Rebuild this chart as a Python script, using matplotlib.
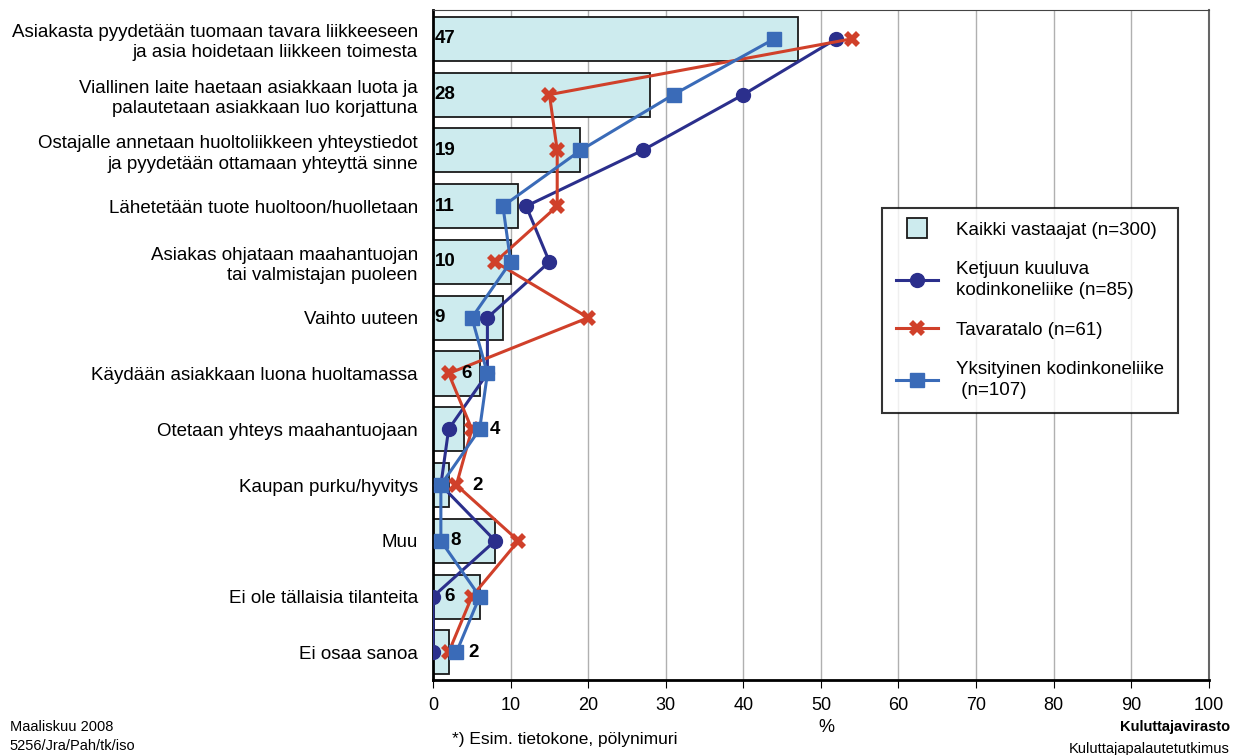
import numpy as np
import matplotlib.pyplot as plt
from matplotlib.lines import Line2D

plt.rcParams['font.family'] = ['Liberation Sans', 'DejaVu Sans']

categories = [
    "Asiakasta pyydetään tuomaan tavara liikkeeseen\nja asia hoidetaan liikkeen toimesta",
    "Viallinen laite haetaan asiakkaan luota ja\npalautetaan asiakkaan luo korjattuna",
    "Ostajalle annetaan huoltoliikkeen yhteystiedot\nja pyydetään ottamaan yhteyttä sinne",
    "Lähetetään tuote huoltoon/huolletaan",
    "Asiakas ohjataan maahantuojan\ntai valmistajan puoleen",
    "Vaihto uuteen",
    "Käydään asiakkaan luona huoltamassa",
    "Otetaan yhteys maahantuojaan",
    "Kaupan purku/hyvitys",
    "Muu",
    "Ei ole tällaisia tilanteita",
    "Ei osaa sanoa",
]
kaikki = [47, 28, 19, 11, 10, 9, 6, 4, 2, 8, 6, 2]
ketju = [52, 40, 27, 12, 15, 7, 7, 2, 1, 8, 0, 0]
tavaratalo = [54, 15, 16, 16, 8, 20, 2, 5, 3, 11, 5, 2]
yksityinen = [44, 31, 19, 9, 10, 5, 7, 6, 1, 1, 6, 3]

# where each bar's number sits (x in %)
label_x = [0.2, 0.2, 0.2, 0.2, 0.2, 0.2, 3.6, 7.3, 5.0, 2.2, 1.4, 4.6]

fig = plt.figure(figsize=(12.41, 7.55), dpi=100)
ax = fig.add_axes([0.349, 0.099, 0.625, 0.888])

y = np.arange(len(categories))
ax.barh(y, kaikki, height=0.79, color='#cdebee', edgecolor='#1a1a1a', linewidth=1.3, zorder=2)
for yi, v, lx in zip(y, kaikki, label_x):
    ax.text(lx, yi, str(v), ha='left', va='center', fontsize=13.5, fontweight='bold', zorder=5)

ax.plot(ketju, y, color='#2b2f8c', lw=2.2, marker='o', ms=10, zorder=3)
ax.plot(tavaratalo, y, color='#d0402a', lw=2.2, marker='X', ms=11, mew=0, zorder=3)
ax.plot(yksityinen, y, color='#3a6bb8', lw=2.2, marker='s', ms=10, zorder=4)

ax.set_xlim(0, 100)
ax.set_ylim(len(categories) - 0.5, -0.52)
ax.set_xticks(np.arange(0, 101, 10))
ax.set_yticks(y)
ax.set_yticklabels(categories, fontsize=13.5, ha='right', multialignment='right', linespacing=1.25)
ax.tick_params(axis='y', length=0, pad=11)
ax.tick_params(axis='x', direction='out', length=6, labelsize=13, pad=6)
ax.xaxis.grid(True, color='#b0b0b0', lw=1, zorder=0)
ax.set_axisbelow(True)
ax.spines['right'].set_color('#666666')
ax.spines['right'].set_linewidth(1.5)
ax.spines['top'].set_color('#444444')
ax.spines['left'].set_linewidth(2)
ax.spines['bottom'].set_linewidth(2)

handles = [
    Line2D([], [], ls='none', marker='s', ms=15, mfc='#cdebee', mec='#1a1a1a', mew=1.3),
    Line2D([], [], color='#2b2f8c', lw=2.2, marker='o', ms=10),
    Line2D([], [], color='#d0402a', lw=2.2, marker='X', ms=11, mew=0),
    Line2D([], [], color='#3a6bb8', lw=2.2, marker='s', ms=10),
]
labels = ["Kaikki vastaajat (n=300)", "Ketjuun kuuluva\nkodinkoneliike (n=85)",
          "Tavaratalo (n=61)", "Yksityinen kodinkoneliike\n (n=107)"]
leg = ax.legend(handles, labels, loc='upper left', bbox_to_anchor=(0.579, 0.705),
                borderaxespad=0, fontsize=13.5, frameon=True, fancybox=False,
                edgecolor='black', handlelength=2.2, labelspacing=1.2,
                borderpad=0.75, handletextpad=1.0)
leg.get_frame().set_linewidth(1.5)
for t in leg.get_texts():
    t.set_linespacing(1.3)

fig.text(0.008, 0.037, "Maaliskuu 2008", fontsize=10.5, va='center')
fig.text(0.008, 0.012, "5256/Jra/Pah/tk/iso", fontsize=10.5, va='center')
fig.text(0.455, 0.021, "*) Esim. tietokone, pölynimuri", fontsize=12.5, ha='center', va='center')
fig.text(0.666, 0.036, "%", fontsize=13, ha='center', va='center')
fig.text(0.991, 0.037, "Kuluttajavirasto", fontsize=10.5, fontweight='bold', ha='right', va='center')
fig.text(0.991, 0.008, "Kuluttajapalautetutkimus", fontsize=10.5, ha='right', va='center')

fig.savefig('out.png', dpi=100)
